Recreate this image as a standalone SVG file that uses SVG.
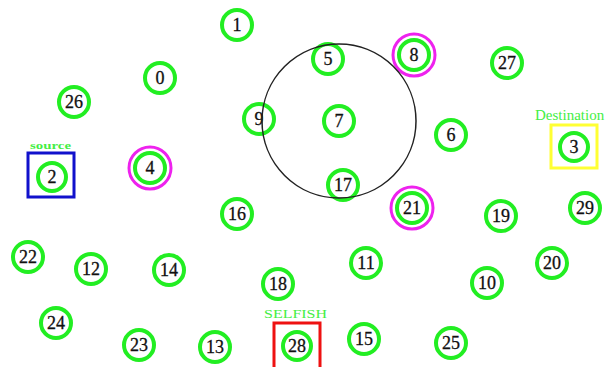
<svg xmlns="http://www.w3.org/2000/svg" width="610" height="367" viewBox="0 0 610 367">
<style>
.ring{fill:#fff;stroke:#22ee22;stroke-width:4}
.sel{fill:none;stroke:#ee22ee;stroke-width:3}
.num{font-family:"Liberation Serif",serif;font-size:18px;fill:#111;stroke:#111;stroke-width:0.3;text-anchor:middle;dominant-baseline:central}
.lbl{font-family:"Liberation Serif",serif;fill:#44ee44}
</style>
<rect width="610" height="367" fill="#fff"/>
<g id="n2"><rect x="28" y="153" width="46" height="44" fill="none" stroke="#1111cc" stroke-width="3"/><text class="lbl" x="30" y="149" font-size="11" font-weight="bold" textLength="41" lengthAdjust="spacingAndGlyphs">source</text><circle class="ring" cx="52" cy="177" r="14"/><text class="num" x="52" y="177">2</text></g>
<g id="n3"><rect x="551" y="125" width="46" height="43" fill="none" stroke="#ffff33" stroke-width="3"/><text class="lbl" x="535" y="120" font-size="15">Destination</text><circle class="ring" cx="574" cy="147" r="14"/><text class="num" x="574" y="147">3</text></g>
<g id="n28"><rect x="274" y="323" width="46" height="46" fill="none" stroke="#ee1111" stroke-width="3"/><text class="lbl" x="264" y="318" font-size="13" textLength="63" lengthAdjust="spacingAndGlyphs">SELFISH</text><circle class="ring" cx="297" cy="346" r="14"/><text class="num" x="297" y="346">28</text></g>
<g id="n1"><circle class="ring" cx="237" cy="25" r="15"/><text class="num" x="237" y="25">1</text></g>
<g id="n0"><circle class="ring" cx="160" cy="78" r="15"/><text class="num" x="160" y="78">0</text></g>
<g id="n26"><circle class="ring" cx="74" cy="102" r="15"/><text class="num" x="74" y="102">26</text></g>
<g id="n9"><circle class="ring" cx="259" cy="119" r="15"/><text class="num" x="259" y="119">9</text></g>
<g id="n4"><circle class="sel" cx="150" cy="168" r="21"/><circle class="ring" cx="150" cy="168" r="15"/><text class="num" x="150" y="168">4</text></g>
<g id="n5"><circle class="ring" cx="328" cy="59" r="15"/><text class="num" x="328" y="59">5</text></g>
<g id="n8"><circle class="sel" cx="414" cy="55" r="21"/><circle class="ring" cx="414" cy="55" r="15"/><text class="num" x="414" y="55">8</text></g>
<g id="n27"><circle class="ring" cx="507" cy="63" r="15"/><text class="num" x="507" y="63">27</text></g>
<g id="n7"><circle class="ring" cx="339" cy="121" r="15"/><text class="num" x="339" y="121">7</text></g>
<g id="n6"><circle class="ring" cx="451" cy="135" r="15"/><text class="num" x="451" y="135">6</text></g>
<g id="n17"><circle class="ring" cx="343" cy="185" r="15"/><text class="num" x="343" y="185">17</text></g>
<g id="n16"><circle class="ring" cx="237" cy="214" r="15"/><text class="num" x="237" y="214">16</text></g>
<g id="n22"><circle class="ring" cx="28" cy="257" r="15"/><text class="num" x="28" y="257">22</text></g>
<g id="n12"><circle class="ring" cx="91" cy="269" r="15"/><text class="num" x="91" y="269">12</text></g>
<g id="n14"><circle class="ring" cx="169" cy="270" r="15"/><text class="num" x="169" y="270">14</text></g>
<g id="n18"><circle class="ring" cx="278" cy="284" r="15"/><text class="num" x="278" y="284">18</text></g>
<g id="n24"><circle class="ring" cx="56" cy="323" r="15"/><text class="num" x="56" y="323">24</text></g>
<g id="n23"><circle class="ring" cx="139" cy="345" r="15"/><text class="num" x="139" y="345">23</text></g>
<g id="n13"><circle class="ring" cx="215" cy="347" r="15"/><text class="num" x="215" y="347">13</text></g>
<g id="n21"><circle class="sel" cx="412" cy="208" r="21"/><circle class="ring" cx="412" cy="208" r="15"/><text class="num" x="412" y="208">21</text></g>
<g id="n19"><circle class="ring" cx="501" cy="216" r="15"/><text class="num" x="501" y="216">19</text></g>
<g id="n29"><circle class="ring" cx="585" cy="208" r="15"/><text class="num" x="585" y="208">29</text></g>
<g id="n11"><circle class="ring" cx="366" cy="263" r="15"/><text class="num" x="366" y="263">11</text></g>
<g id="n20"><circle class="ring" cx="552" cy="263" r="15"/><text class="num" x="552" y="263">20</text></g>
<g id="n10"><circle class="ring" cx="487" cy="283" r="15"/><text class="num" x="487" y="283">10</text></g>
<g id="n15"><circle class="ring" cx="364" cy="339" r="15"/><text class="num" x="364" y="339">15</text></g>
<g id="n25"><circle class="ring" cx="451" cy="343" r="15"/><text class="num" x="451" y="343">25</text></g>
<g id="connectors">
<circle cx="339" cy="121" r="77" fill="none" stroke="#222" stroke-width="1.5"/>
</g>
</svg>
